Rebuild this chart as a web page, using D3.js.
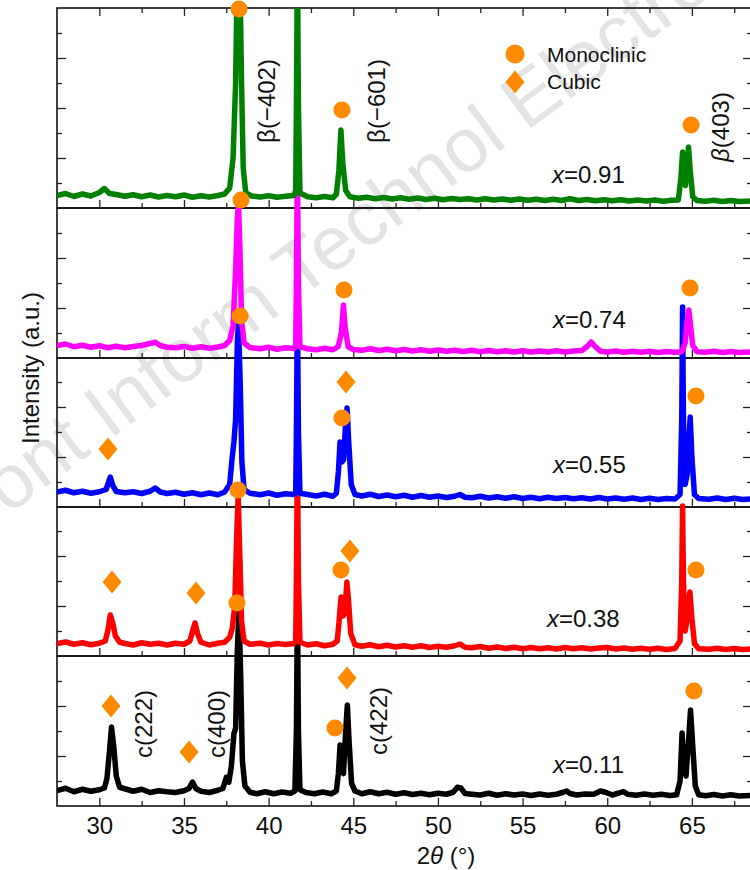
<!DOCTYPE html>
<html><head><meta charset="utf-8">
<script src="https://cdn.jsdelivr.net/npm/d3@7"></script>
<style>
html,body{margin:0;padding:0;background:#fff;}
svg{display:block;font-family:"Liberation Sans",Arial,sans-serif;}
</style></head>
<body><svg id="chart" width="750" height="870"></svg>
<script>
// ---------------- DATA ----------------
const sampleLabels = ["0.91", "0.74", "0.55", "0.38", "0.11"];
const xTickValues = [30, 35, 40, 45, 50, 55, 60, 65];
const xMinorTicks = [32.5, 37.5, 42.5, 47.5, 52.5, 57.5, 62.5, 67.5];

// 2θ (deg), intensity (a.u., offset per panel)
const pattern091 = [[27.5,0.5],[28,0.58],[28.5,0.46],[29,0.56],[29.5,0.48],[30,0.62],[30.3,0.78],[30.6,0.58],[31,0.54],[31.5,0.47],[32,0.53],[32.5,0.45],[33,0.52],[33.5,0.44],[34,0.5],[34.5,0.45],[35,0.52],[35.5,0.43],[36,0.49],[36.5,0.44],[37,0.5],[37.4,0.56],[37.7,0.8],[37.9,2.0],[38.05,5],[38.15,9.5],[38.3,9.5],[38.4,5],[38.5,1.6],[38.65,0.6],[39,0.48],[39.5,0.44],[40,0.49],[40.5,0.43],[41,0.47],[41.5,0.5],[41.6,0.7],[41.64,4],[41.7,10],[41.76,4],[41.85,0.6],[42.3,0.45],[42.8,0.41],[43.3,0.46],[43.8,0.41],[44.0,0.55],[44.15,1.5],[44.27,3.12],[44.38,1.8],[44.55,0.7],[44.8,0.45],[45.3,0.39],[45.8,0.43],[46.3,0.37],[46.8,0.42],[47.3,0.36],[47.8,0.41],[48.3,0.35],[48.8,0.4],[49.3,0.34],[49.8,0.39],[50.3,0.33],[50.8,0.38],[51.3,0.34],[51.8,0.37],[52.3,0.32],[52.8,0.37],[53.3,0.32],[53.8,0.36],[54.3,0.31],[54.8,0.36],[55.3,0.31],[55.8,0.35],[56.3,0.3],[56.8,0.35],[57.3,0.3],[57.8,0.37],[58.3,0.3],[58.8,0.34],[59.3,0.29],[59.8,0.33],[60.3,0.29],[60.8,0.33],[61.3,0.28],[61.8,0.32],[62.3,0.28],[62.8,0.32],[63.3,0.27],[63.8,0.31],[64.2,0.32],[64.35,1.2],[64.45,2.24],[64.55,1.2],[64.62,0.9],[64.7,1.4],[64.8,2.44],[64.9,1.5],[65.05,0.45],[65.3,0.3],[65.8,0.27],[66.3,0.31],[66.8,0.26],[67.3,0.3],[67.8,0.26],[68.55,0.28]];

const pattern074 = [[27.5,0.5],[28,0.56],[28.5,0.45],[29,0.51],[29.5,0.43],[30,0.49],[30.5,0.41],[31,0.47],[31.5,0.41],[32,0.46],[32.5,0.5],[33,0.58],[33.3,0.63],[33.6,0.5],[34,0.43],[34.5,0.41],[35,0.46],[35.5,0.39],[36,0.45],[36.5,0.39],[37,0.44],[37.4,0.5],[37.7,0.7],[37.9,1.3],[38.05,3.5],[38.15,5.6],[38.22,6.16],[38.3,4.5],[38.4,1.5],[38.55,0.6],[38.9,0.42],[39.5,0.37],[40,0.43],[40.5,0.35],[41,0.41],[41.5,0.38],[41.6,0.5],[41.64,3],[41.7,7.9],[41.76,3],[41.85,0.45],[42.3,0.37],[42.8,0.33],[43.3,0.39],[43.8,0.33],[44.1,0.45],[44.3,1.0],[44.42,2.12],[44.52,1.2],[44.7,0.45],[45,0.34],[45.5,0.31],[46,0.37],[46.5,0.3],[47,0.35],[47.5,0.29],[48,0.34],[48.5,0.28],[49,0.33],[49.5,0.27],[50,0.32],[50.5,0.27],[51,0.31],[51.5,0.26],[52,0.31],[52.5,0.25],[53,0.3],[53.5,0.25],[54,0.29],[54.5,0.24],[55,0.29],[55.5,0.24],[56,0.28],[56.5,0.24],[57,0.29],[57.5,0.24],[58,0.28],[58.5,0.3],[58.8,0.45],[59.05,0.64],[59.3,0.45],[59.6,0.27],[60,0.24],[60.5,0.28],[61,0.23],[61.5,0.27],[62,0.23],[62.5,0.27],[63,0.22],[63.5,0.26],[64,0.23],[64.4,0.25],[64.6,0.6],[64.72,1.5],[64.82,1.92],[64.92,1.3],[65.05,0.5],[65.3,0.25],[65.8,0.23],[66.3,0.27],[66.8,0.22],[67.3,0.26],[67.8,0.22],[68.55,0.24]];

const pattern055 = [[27.5,0.6],[28,0.67],[28.5,0.57],[29,0.63],[29.5,0.55],[30,0.61],[30.4,0.7],[30.55,1.0],[30.65,1.2],[30.8,0.85],[31,0.62],[31.5,0.57],[32,0.61],[32.5,0.54],[33,0.63],[33.3,0.76],[33.6,0.6],[34,0.54],[34.5,0.59],[35,0.51],[35.5,0.57],[36,0.49],[36.5,0.56],[37,0.49],[37.4,0.6],[37.7,0.9],[37.85,2.0],[37.95,2.6],[38.05,3.5],[38.15,6.5],[38.22,7.4],[38.32,5],[38.42,1.8],[38.55,0.7],[38.9,0.55],[39.5,0.49],[40,0.56],[40.5,0.47],[41,0.53],[41.5,0.5],[41.6,0.6],[41.64,3],[41.7,8.0],[41.76,3],[41.85,0.55],[42.3,0.5],[42.8,0.44],[43.3,0.51],[43.8,0.43],[44.0,0.55],[44.12,1.4],[44.22,2.6],[44.33,1.8],[44.43,1.9],[44.55,3.4],[44.63,3.96],[44.73,2.6],[44.88,0.9],[45.1,0.5],[45.5,0.44],[46,0.51],[46.5,0.42],[47,0.48],[47.5,0.41],[48,0.47],[48.5,0.39],[49,0.46],[49.5,0.39],[50,0.44],[50.5,0.38],[51,0.43],[51.3,0.5],[51.6,0.39],[52,0.37],[52.5,0.43],[53,0.36],[53.5,0.41],[54,0.35],[54.5,0.41],[55,0.34],[55.5,0.39],[56,0.33],[56.5,0.39],[57,0.34],[57.5,0.38],[58,0.33],[58.5,0.37],[59,0.32],[59.5,0.38],[60,0.32],[60.5,0.36],[61,0.31],[61.5,0.36],[62,0.3],[62.5,0.35],[63,0.3],[63.5,0.34],[64,0.32],[64.3,0.5],[64.4,3.5],[64.45,8.0],[64.5,3.5],[64.6,0.9],[64.72,1.3],[64.82,2.6],[64.9,3.6],[65.0,2.0],[65.15,0.5],[65.4,0.34],[66,0.31],[66.5,0.36],[67,0.3],[67.5,0.35],[68,0.3],[68.55,0.32]];

const pattern038 = [[27.5,0.5],[28,0.56],[28.5,0.47],[29,0.53],[29.5,0.45],[30,0.51],[30.35,0.6],[30.5,1.0],[30.65,1.64],[30.8,1.3],[30.95,0.8],[31.2,0.55],[31.6,0.49],[32,0.44],[32.5,0.53],[33,0.47],[33.5,0.51],[34,0.44],[34.5,0.51],[35,0.47],[35.35,0.6],[35.55,1.1],[35.65,1.32],[35.8,0.9],[36,0.55],[36.5,0.44],[37,0.51],[37.4,0.55],[37.7,0.75],[37.85,1.1],[38.0,2.0],[38.1,4.5],[38.2,6.4],[38.3,4],[38.4,1.4],[38.55,0.6],[38.9,0.47],[39.5,0.51],[40,0.44],[40.5,0.5],[41,0.46],[41.5,0.5],[41.6,0.6],[41.64,3],[41.7,8.2],[41.76,3],[41.85,0.55],[42.3,0.44],[42.8,0.49],[43.3,0.41],[43.8,0.47],[44.05,0.6],[44.15,1.3],[44.28,2.36],[44.4,1.6],[44.5,1.7],[44.62,2.96],[44.72,2.2],[44.85,0.9],[45.1,0.45],[45.5,0.39],[46,0.45],[46.5,0.37],[47,0.43],[47.5,0.36],[48,0.41],[48.5,0.35],[49,0.41],[49.5,0.34],[50,0.39],[50.5,0.35],[51,0.41],[51.3,0.48],[51.6,0.35],[52,0.33],[52.5,0.38],[53,0.31],[53.5,0.36],[54,0.3],[54.5,0.35],[55,0.29],[55.5,0.34],[56,0.29],[56.5,0.33],[57,0.28],[57.5,0.34],[58,0.29],[58.5,0.33],[59,0.28],[59.5,0.32],[60,0.34],[60.5,0.28],[61,0.32],[61.5,0.27],[62,0.31],[62.5,0.27],[63,0.31],[63.5,0.26],[64,0.3],[64.3,0.6],[64.4,3],[64.45,6.0],[64.5,3],[64.6,1.0],[64.75,1.6],[64.88,2.56],[65.0,1.5],[65.15,0.5],[65.4,0.29],[66,0.27],[66.5,0.31],[67,0.26],[67.5,0.3],[68,0.26],[68.55,0.28]];

const pattern011 = [[27.5,0.62],[28,0.71],[28.5,0.57],[29,0.67],[29.5,0.59],[30,0.65],[30.3,0.72],[30.45,1.1],[30.6,2.2],[30.72,3.16],[30.85,2.4],[31.0,1.2],[31.2,0.75],[31.6,0.67],[32,0.59],[32.5,0.67],[33,0.54],[33.5,0.61],[34,0.57],[34.5,0.54],[35,0.61],[35.3,0.7],[35.5,0.96],[35.7,0.7],[36,0.59],[36.5,0.54],[37,0.63],[37.3,0.7],[37.5,1.15],[37.65,0.95],[37.8,1.6],[37.95,2.9],[38.05,3.1],[38.15,6.2],[38.25,7.85],[38.35,5.2],[38.45,1.8],[38.6,0.8],[38.9,0.55],[39.3,0.49],[39.8,0.57],[40.3,0.49],[40.8,0.56],[41.3,0.51],[41.55,0.6],[41.64,3],[41.7,8.2],[41.76,3],[41.85,0.65],[42.2,0.54],[42.7,0.49],[43.2,0.56],[43.7,0.49],[44.0,0.6],[44.12,1.3],[44.22,2.44],[44.32,1.4],[44.42,1.3],[44.55,3.0],[44.65,4.04],[44.75,2.6],[44.9,0.9],[45.1,0.6],[45.5,0.49],[46,0.57],[46.5,0.49],[47,0.55],[47.5,0.47],[48,0.53],[48.5,0.46],[49,0.51],[49.5,0.45],[50,0.51],[50.5,0.47],[50.9,0.55],[51.15,0.75],[51.35,0.72],[51.6,0.5],[52,0.47],[52.5,0.44],[53,0.51],[53.5,0.43],[54,0.49],[54.5,0.44],[55,0.48],[55.5,0.42],[56,0.48],[56.5,0.43],[57,0.47],[57.4,0.55],[57.6,0.6],[57.8,0.5],[58.2,0.44],[58.7,0.48],[59.2,0.47],[59.6,0.6],[59.9,0.55],[60.3,0.44],[60.7,0.52],[60.95,0.58],[61.2,0.47],[61.7,0.43],[62.2,0.48],[62.7,0.43],[63.2,0.47],[63.7,0.42],[64.1,0.45],[64.3,1.0],[64.42,2.92],[64.52,1.6],[64.65,1.2],[64.8,2.6],[64.92,3.84],[65.05,2.4],[65.2,0.8],[65.4,0.45],[65.8,0.41],[66.3,0.46],[66.8,0.4],[67.3,0.45],[67.8,0.4],[68.55,0.42]];

const patterns = [pattern091, pattern074, pattern055, pattern038, pattern011];

// phase markers: panel index, 2θ, intensity level
const monoclinicMarks = [
  [0,38.25,7.96],[0,44.33,3.92],[0,64.95,3.32],
  [1,38.37,6.32],[1,44.45,2.72],[1,64.89,2.8],
  [2,38.31,7.64],[2,44.33,3.56],[2,65.24,4.44],
  [3,38.19,6.64],[3,44.27,3.44],[3,65.24,3.44],
  [4,38.13,8.12],[4,43.92,3.12],[4,65.12,4.6]
];
const cubicMarks = [
  [2,30.51,2.32],[2,44.57,5.0],
  [3,30.75,2.96],[3,35.71,2.52],[3,44.8,4.2],
  [4,30.69,4.0],[4,35.3,2.16],[4,44.63,5.12]
];
// peak index labels: panel, text, 2θ, level, italic β
const peakLabels = [
  [0,"β(−402)",39.9,4.28,false],
  [0,"β(−601)",46.4,4.28,false],
  [0,"β(403)",66.66,3.24,true],
  [4,"c(222)",32.58,3.28,false],
  [4,"c(400)",36.95,3.28,false],
  [4,"c(422)",46.46,3.4,false]
];
// sample label anchors: 2θ, level
const sampleLabelPos = [[56.74,1.0],[56.8,1.2],[56.8,1.36],[56.44,1.16],[56.8,1.32]];
const legendItems = ["Monoclinic", "Cubic"];

(function () {
// ---------------- LAYOUT / STYLE ----------------
const colors = ["#008000", "#ff00ff", "#0000ff", "#ff0000", "#000000"];
const markColor = "#ff8a00";
const pLeft = 57, pRight = 752, pTop = 8;
const panelBottoms = [208, 358, 507, 656, 806];
const panelTops = [8, 208, 358, 507, 656];
const unitPx = 25;

const svg = d3.select("#chart");
const x = d3.scaleLinear().domain([27.5, 68.55]).range([pLeft, pRight]);
const ys = panelBottoms.map((b, i) =>
  d3.scaleLinear().domain([0, (b - panelTops[i]) / unitPx]).range([b, panelTops[i]]));

// watermark (cut by the page edges, as in the source figure)
svg.append("text")
  .attr("transform", "translate(-50,558) rotate(-36.5)")
  .attr("font-size", 76).attr("fill", "#e3e3e3")
  .text("Front Inform Technol Electron Eng");

// frames and ticks
panelBottoms.forEach((b, i) => {
  const y = ys[i];
  const ymax = (b - panelTops[i]) / unitPx;
  const yt = d3.range(1, Math.floor(ymax - 0.2) + 1);
  const major = yt.filter(v => v % 2 === 0), minor = yt.filter(v => v % 2 === 1);
  const g = svg.append("g");
  g.append("g").attr("transform", `translate(${pLeft},0)`)
    .call(d3.axisRight(y).tickValues(major).tickSize(9).tickFormat(""));
  g.append("g").attr("transform", `translate(${pLeft},0)`)
    .call(d3.axisRight(y).tickValues(minor).tickSize(5).tickFormat(""));
  g.append("g").attr("transform", `translate(${pRight},0)`)
    .call(d3.axisLeft(y).tickValues(major).tickSize(9).tickFormat(""));
  g.append("g").attr("transform", `translate(${pRight},0)`)
    .call(d3.axisLeft(y).tickValues(minor).tickSize(5).tickFormat(""));
  g.append("g").attr("transform", `translate(0,${b})`)
    .call(d3.axisTop(x).tickValues(xTickValues).tickSize(8).tickFormat(""));
  g.append("g").attr("transform", `translate(0,${b})`)
    .call(d3.axisTop(x).tickValues(xMinorTicks).tickSize(5).tickFormat(""));
  g.selectAll(".domain").remove();
  g.selectAll("line").attr("stroke", "#222").attr("stroke-width", 1.3);
  svg.append("rect").attr("x", pLeft).attr("y", panelTops[i])
    .attr("width", pRight - pLeft).attr("height", b - panelTops[i])
    .attr("fill", "none").attr("stroke", "#111").attr("stroke-width", 1.6);
});
// top ticks
const topAx = svg.append("g").attr("transform", `translate(0,${pTop})`);
topAx.append("g").call(d3.axisBottom(x).tickValues(xTickValues).tickSize(8).tickFormat(""));
topAx.append("g").call(d3.axisBottom(x).tickValues(xMinorTicks).tickSize(5).tickFormat(""));
topAx.selectAll(".domain").remove();
topAx.selectAll("line").attr("stroke", "#222").attr("stroke-width", 1.3);

// x tick labels
const xl = svg.append("g").attr("transform", `translate(0,${panelBottoms[4]})`)
  .call(d3.axisBottom(x).tickValues(xTickValues).tickSize(0).tickPadding(11).tickFormat(d3.format("d")));
xl.select(".domain").remove();
xl.selectAll("text").attr("font-size", 24).attr("fill", "#111")
  .attr("font-family", "Liberation Sans, Arial, sans-serif");

// curves (bottom panel first so upper ones are drawn on top)
svg.append("clipPath").attr("id", "plotclip").append("rect")
  .attr("x", pLeft).attr("y", pTop).attr("width", pRight - pLeft).attr("height", panelBottoms[4] - pTop);
const curves = svg.append("g").attr("clip-path", "url(#plotclip)");
[4, 3, 2, 1, 0].forEach(i => {
  const line = d3.line().x(d => x(d[0])).y(d => ys[i](d[1]));
  curves.append("path").datum(patterns[i]).attr("d", line)
    .attr("fill", "none").attr("stroke", colors[i]).attr("stroke-width", 5.5)
    .attr("stroke-linejoin", "round");
});

// markers
svg.append("g").selectAll("circle").data(monoclinicMarks).join("circle")
  .attr("cx", d => x(d[1])).attr("cy", d => ys[d[0]](d[2])).attr("r", 8.5).attr("fill", markColor);
const diamond = "M0,-11.5L9.5,0L0,11.5L-9.5,0Z";
svg.append("g").selectAll("path").data(cubicMarks).join("path")
  .attr("d", diamond).attr("fill", markColor)
  .attr("transform", d => `translate(${x(d[1])},${ys[d[0]](d[2])})`);

// peak labels
svg.append("g").selectAll("text").data(peakLabels).join("text")
  .attr("transform", d => `translate(${x(d[2])},${ys[d[0]](d[3])}) rotate(-90)`)
  .attr("text-anchor", "middle").attr("dominant-baseline", "central")
  .attr("font-size", 24).attr("fill", "#111")
  .each(function(d) {
    const t = d3.select(this);
    if (d[4]) {
      t.append("tspan").attr("font-style", "italic").text(d[1].slice(0, 1));
      t.append("tspan").text(d[1].slice(1));
    } else t.text(d[1]);
  });

// sample labels
sampleLabels.forEach((s, i) => {
  const t = svg.append("text").attr("x", x(sampleLabelPos[i][0])).attr("y", ys[i](sampleLabelPos[i][1]))
    .attr("font-size", 24).attr("fill", "#111");
  t.append("tspan").attr("font-style", "italic").text("x");
  t.append("tspan").text("=" + s);
});

// legend
const lg = svg.append("g");
lg.append("circle").attr("cx", 515).attr("cy", 54).attr("r", 9.5).attr("fill", markColor);
lg.append("path").attr("d", diamond).attr("fill", markColor).attr("transform", "translate(515,82)");
lg.selectAll("text").data(legendItems).join("text")
  .attr("x", 547).attr("y", (d, i) => 62 + i * 27).attr("font-size", 21).attr("fill", "#111")
  .text(d => d);

// axis titles
const xt = svg.append("text").attr("x", 446).attr("y", 864).attr("text-anchor", "middle")
  .attr("font-size", 24).attr("fill", "#111");
xt.append("tspan").text("2");
xt.append("tspan").attr("font-style", "italic").text("θ");
xt.append("tspan").text(" (°)");
svg.append("text").attr("transform", "translate(30,368) rotate(-90)")
  .attr("text-anchor", "middle").attr("dominant-baseline", "central")
  .attr("font-size", 24).attr("fill", "#111").text("Intensity (a.u.)");
})();
</script></body></html>
